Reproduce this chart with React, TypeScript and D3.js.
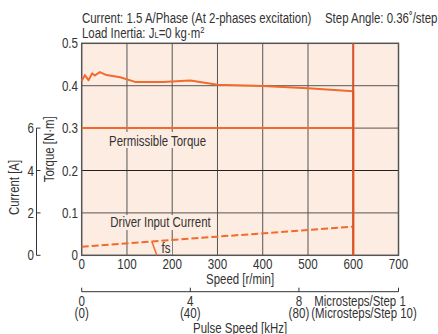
import React from "react";
import * as d3 from "d3";

const speedTicks = [0, 100, 200, 300, 400, 500, 600, 700];
const torqueTicks = [0, 0.1, 0.2, 0.3, 0.4, 0.5];
const torqueTickLabels = ["0", "0.1", "0.2", "0.3", "0.4", "0.5"];
const currentTicks = [0, 2, 4, 6];
const pulseTicks = [0, 4, 8];
const pulseLabels1 = ["0", "4", "8"];
const pulseLabels2 = ["(0)", "(40)", "(80)"];

// pull-out torque [r/min, N·m]
const torqueSpeed = [0, 7, 15, 23, 29, 40, 55, 85, 118, 180, 240, 300, 400, 500, 600, 600];
const torqueValues = [0.411, 0.425, 0.413, 0.429, 0.424, 0.432, 0.425, 0.42, 0.409, 0.409, 0.412, 0.402, 0.399, 0.394, 0.387, 0];

// permissible torque
const permSpeed = [0, 600];
const permTorque = [0.3, 0.3];

// driver input current [r/min, A]
const currentSpeed = [0, 300, 600];
const currentValues = [0.4, 0.88, 1.35];

const fsSpeed = [155, 166];

const W = 438;
const H = 334;
const L = 81.7, R = 398.5, T = 43.3, B = 255.3;
const FONT = "'Liberation Sans', Arial, sans-serif";
const TXT = "#333";
const ORANGE = "#f26a2c";
const GRID = "#555";
const BG = "#fdece1";
const SX = 0.8;
const FS = 14.3;

type TP = {
  x: number;
  y: number;
  size?: number;
  anchor?: "start" | "middle" | "end";
  rotate?: number;
  children: React.ReactNode;
};

function Txt({ x, y, size = FS, anchor = "start", rotate = 0, children }: TP) {
  return (
    <text
      transform={`translate(${x},${y}) rotate(${rotate}) scale(${SX},1)`}
      fontSize={size}
      fill={TXT}
      textAnchor={anchor}
    >
      {children}
    </text>
  );
}

export default function App() {
  const x = d3.scaleLinear().domain([0, 700]).range([L, R]);
  const y = d3.scaleLinear().domain([0, 0.5]).range([B, T]);
  const yc = d3.scaleLinear().domain([0, 6]).range([B, y(0.3)]);
  const xp = d3.scaleLinear().domain([0, 700 / 60]).range([L, R]);

  const torqueLine = d3
    .line<number>()
    .x((_, i) => x(torqueSpeed[i]))
    .y((d) => y(d));
  const permLine = d3
    .line<number>()
    .x((_, i) => x(permSpeed[i]))
    .y((d) => y(d));
  const curLine = d3
    .line<number>()
    .x((_, i) => x(currentSpeed[i]))
    .y((d) => yc(d));

  const curAt = (s: number) => {
    const f = d3.scaleLinear().domain(currentSpeed).range(currentValues);
    return f(s);
  };

  const currentAxisX = 36.5;
  const pulseY = 291.7;

  return (
    <svg
      width={W}
      height={H}
      style={{ position: "absolute", left: 0, top: 0, background: "#fff" }}
      fontFamily={FONT}
    >
      {/* title */}
      <Txt x={82} y={22.5}>Current: 1.5 A/Phase (At 2-phases excitation)</Txt>
      <Txt x={325} y={22.5}>Step Angle: 0.36˚/step</Txt>
      <Txt x={82} y={37.5}>
        Load Inertia: J
        <tspan fontSize={9.5}>L</tspan>
        =0 kg·m
        <tspan fontSize={9.5} dy={-5}>2</tspan>
      </Txt>

      {/* plot background */}
      <rect x={L} y={T} width={R - L} height={B - T} fill={BG} />

      {/* grid */}
      {speedTicks.slice(1, -1).map((s) => (
        <line key={"gx" + s} x1={x(s)} x2={x(s)} y1={T} y2={B} stroke={GRID} strokeWidth={1} />
      ))}
      {torqueTicks.slice(1, -1).map((t) => (
        <line key={"gy" + t} x1={L} x2={R} y1={y(t)} y2={y(t)} stroke={t === 0.2 ? "#222" : GRID} strokeWidth={1} />
      ))}

      {/* label backgrounds */}
      <rect x={106} y={132} width={104} height={16} fill={BG} />
      <rect x={107} y={215} width={107} height={15} fill={BG} />
      <rect x={160} y={241} width={12} height={14} fill={BG} />

      {/* frame */}
      <rect x={L} y={T} width={R - L} height={B - T} fill="none" stroke={GRID} strokeWidth={1.5} />

      {/* curves */}
      <path d={permLine(permTorque) ?? ""} fill="none" stroke={ORANGE} strokeWidth={2} />
      <path
        d={curLine(currentValues) ?? ""}
        fill="none"
        stroke={ORANGE}
        strokeWidth={2}
        strokeDasharray="7,3"
      />
      <path d={torqueLine(torqueValues) ?? ""} fill="none" stroke={ORANGE} strokeWidth={2} strokeLinejoin="round" />
      <line x1={x(600)} x2={x(600)} y1={T} y2={B} stroke="#dc5328" strokeWidth={2} />
      <line
        x1={x(fsSpeed[0])}
        y1={yc(curAt(fsSpeed[0]))}
        x2={x(fsSpeed[1])}
        y2={B}
        stroke={ORANGE}
        strokeWidth={1.5}
      />

      {/* in-plot labels */}
      <Txt x={157.5} y={145.5} anchor="middle">Permissible Torque</Txt>
      <Txt x={160.5} y={227} anchor="middle">Driver Input Current</Txt>
      <Txt x={166} y={253} anchor="middle">fs</Txt>

      {/* torque tick labels */}
      {torqueTicks.map((t, i) => (
        <Txt key={"ty" + t} x={78} y={y(t) + 5} size={14.5} anchor="end">
          {torqueTickLabels[i]}
        </Txt>
      ))}
      <Txt x={54} y={(y(0.33) + y(0.17)) / 2} anchor="middle" rotate={-90}>
        Torque [N·m]
      </Txt>

      {/* current axis */}
      <line x1={currentAxisX} x2={currentAxisX} y1={yc(0)} y2={yc(6)} stroke={TXT} strokeWidth={1} />
      {currentTicks.map((c) => (
        <g key={"c" + c}>
          <line x1={currentAxisX} x2={currentAxisX + 4} y1={yc(c)} y2={yc(c)} stroke={TXT} strokeWidth={1} />
          <Txt x={34} y={yc(c) + 5} size={14.5} anchor="end">
            {c}
          </Txt>
        </g>
      ))}
      <Txt x={19} y={yc(3.2)} anchor="middle" rotate={-90}>
        Current [A]
      </Txt>

      {/* speed axis labels */}
      {speedTicks.map((s) => (
        <Txt key={"sx" + s} x={x(s)} y={269} size={14.5} anchor="middle">
          {s}
        </Txt>
      ))}
      <Txt x={(L + R) / 2} y={283.5} anchor="middle">Speed [r/min]</Txt>

      {/* pulse speed axis */}
      <line x1={xp(0)} x2={xp(700 / 60)} y1={pulseY} y2={pulseY} stroke={TXT} strokeWidth={1} />
      {[...pulseTicks, 700 / 60].map((p) => (
        <line key={"pt" + p} x1={xp(p)} x2={xp(p)} y1={pulseY} y2={pulseY - 4} stroke={TXT} strokeWidth={1} />
      ))}
      {pulseTicks.map((p, i) => (
        <g key={"pl" + p}>
          <Txt x={xp(p)} y={305.5} size={14.5} anchor="middle">
            {pulseLabels1[i]}
          </Txt>
          <Txt x={xp(p)} y={317.5} size={14.5} anchor="middle">
            {pulseLabels2[i]}
          </Txt>
        </g>
      ))}
      <Txt x={360} y={305.5} anchor="middle">Microsteps/Step 1</Txt>
      <Txt x={364} y={317.5} anchor="middle">(Microsteps/Step 10)</Txt>
      <Txt x={(L + R) / 2} y={332.5} anchor="middle">Pulse Speed [kHz]</Txt>
    </svg>
  );
}
